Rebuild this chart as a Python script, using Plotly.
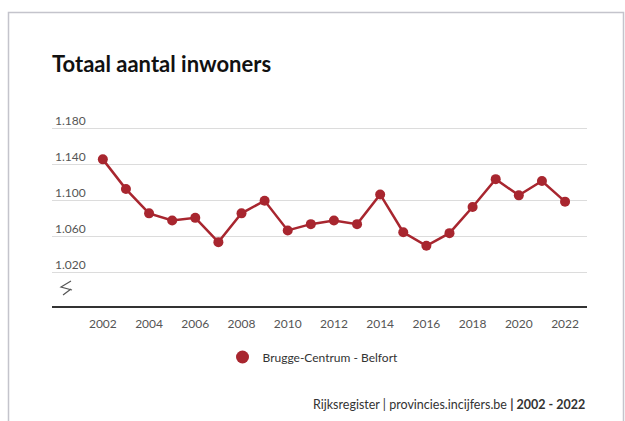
import plotly.graph_objects as go

years = list(range(2002, 2023))
inwoners = [1146, 1113, 1086, 1078, 1081, 1054, 1086, 1100, 1067, 1074,
            1078, 1074, 1107, 1065, 1050, 1064, 1093, 1124, 1106, 1122, 1099]
series_name = "Brugge-Centrum - Belfort"
y_ticks = [1020, 1060, 1100, 1140, 1180]
y_ticktext = ["1.020", "1.060", "1.100", "1.140", "1.180"]
x_ticks = list(range(2002, 2023, 2))

RED = "#a8262f"
FONT = "Lato"

W, H = 625, 421
Y_MIN, Y_MAX = 983, 1212
L, R, B = 52, 38, 115
T = int(round(128.7 - (Y_MAX - 1180) * 0.9))
pw, ph = W - L - R, H - T - B


def px(x):
    return (x - L) / pw


def py(y):
    return (H - B - y) / ph


fig = go.Figure()
fig.add_trace(go.Scatter(
    x=years, y=inwoners, mode="lines+markers",
    line=dict(color=RED, width=2.5),
    marker=dict(color=RED, size=10),
    showlegend=False, name=series_name,
))
fig.add_trace(go.Scatter(
    x=[None], y=[None], mode="markers",
    marker=dict(color=RED, size=13),
    name=series_name, showlegend=True,
))

# break symbol on the y axis
bx = [(71, 281), (61, 287), (72, 290)]
bx2 = [(71, 289), (63, 295)]
path = "M " + " L ".join(f"{px(a):.4f},{py(b):.4f}" for a, b in bx)
path += " M " + " L ".join(f"{px(a):.4f},{py(b):.4f}" for a, b in bx2)

shapes = [
    dict(type="path", path=path, xref="paper", yref="paper",
         line=dict(color="#555", width=1.2)),
    dict(type="rect", xref="paper", yref="paper",
         x0=px(8.5), x1=px(623.5), y0=py(440), y1=py(12.5),
         line=dict(color="#c4c4cc", width=1.5), layer="below"),
]

fig.update_layout(
    width=W, height=H, autosize=False,
    margin=dict(l=L, r=R, t=T, b=B),
    paper_bgcolor="white", plot_bgcolor="white",
    font=dict(family=FONT, color="#444", size=12),
    title=dict(text="<b>Totaal aantal inwoners</b>", x=52 / W, xanchor="left",
               y=1 - 64 / H, yanchor="middle",
               font=dict(family=FONT, size=22, color="#111")),
    xaxis=dict(range=[1999.8, 2022.95], tickvals=x_ticks, showgrid=False,
               showline=True, linecolor="#333", linewidth=2, ticks="",
               zeroline=False, tickfont=dict(size=12, color="#555"),
               ticklabelstandoff=6),
    yaxis=dict(range=[Y_MIN, Y_MAX], tickvals=y_ticks, ticktext=y_ticktext,
               showgrid=True, gridcolor="#dcdcdc", gridwidth=1,
               showline=False, zeroline=False, ticks="",
               ticklabelposition="inside top",
               tickfont=dict(size=12, color="#555")),
    legend=dict(orientation="h", x=px(313), xanchor="center", y=py(357),
                yanchor="middle", font=dict(size=12, color="#333"),
                bgcolor="rgba(0,0,0,0)"),
    shapes=shapes,
    annotations=[dict(
        text="Rijksregister | provincies.incijfers.be <b>| 2002 - 2022</b>",
        xref="paper", yref="paper", x=1, y=py(404), xanchor="right",
        yanchor="middle", showarrow=False,
        font=dict(family=FONT, size=12.5, color="#333"))],
)

fig.write_html("out.html", config={"displayModeBar": False},
               post_script="document.body.style.margin='0';")
